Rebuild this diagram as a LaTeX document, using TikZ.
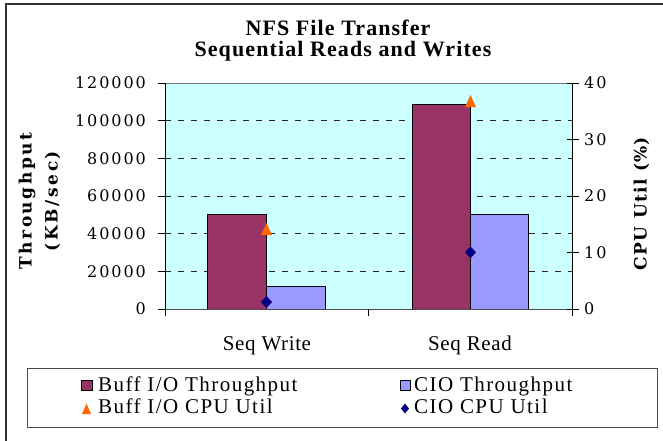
\documentclass[tikz,border=0pt]{standalone}
\usepackage{fontspec}
\setmainfont{Liberation Serif}
\newfontfamily\titlefont{Liberation Serif}[LetterSpace=5]
\newfontfamily\legendfont{Liberation Serif}[LetterSpace=7]
\newfontfamily\catfont{Liberation Serif}[LetterSpace=3]
\newfontfamily\tickfont{DejaVu Serif}[LetterSpace=12]
\newfontfamily\leftaxisfont{DejaVu Serif}[LetterSpace=15]
\newfontfamily\rightaxisfont{DejaVu Serif}[LetterSpace=8]

\definecolor{plotbg}{HTML}{CCFFFF}
\definecolor{buffbar}{HTML}{993366}
\definecolor{ciobar}{HTML}{9999FF}
\definecolor{buffcpu}{HTML}{FF6600}
\definecolor{ciocpu}{HTML}{000080}

\tikzset{
  bar/.style={draw=black,line width=0.9pt},
  gridline/.style={black!85,line width=0.9pt,dash pattern=on 6pt off 7pt},
  ticklabel/.style={inner sep=0pt,font={\fontsize{16}{16}\tickfont}},
  catlabel/.style={inner sep=0pt,anchor=base,font={\fontsize{21}{21}\catfont}},
  legendlabel/.style={inner sep=0pt,anchor=base west,font={\fontsize{21}{21}\legendfont}},
  titlelabel/.style={inner sep=0pt,anchor=base,font={\fontsize{22}{22}\titlefont\bfseries}},
  buff tri/.pic={\fill[buffcpu] (-5.5,6) -- (5.5,6) -- (0,-6) -- cycle;},
  cio dia/.pic={\fill[ciocpu] (-5.5,0) -- (0,-6) -- (5.5,0) -- (0,6) -- cycle;},
  legend tri/.pic={\fill[buffcpu] (-4.5,5) -- (4.5,5) -- (0,-5.5) -- cycle;},
  legend dia/.pic={\fill[ciocpu] (-4,0) -- (0,-5) -- (4,0) -- (0,5) -- cycle;}
}

\begin{document}
\begin{tikzpicture}[x=1pt,y=-1pt]
    \useasboundingbox (0,0) rectangle (663,440);
    \draw[black!80,line width=1.5pt] (6,4) rectangle (668,446);

    % title
    \node[titlelabel] (title1) at (338,35) {NFS File Transfer};
    \node[titlelabel] (title2) at (343,56.5) {Sequential Reads and Writes};

    % plot area
    \fill[plotbg] (165,83) rectangle (572,309);
    \foreach \v in {20,40,...,100}{
        \pgfmathsetmacro\yy{309-\v*1.88333}
        \draw[gridline] (165,\yy) -- (572,\yy);
    }

    % bars
    \draw[bar,fill=buffbar] (207.5,309) rectangle (266.5,214.8);
    \draw[bar,fill=ciobar] (266.5,309) rectangle (325,286.4);
    \draw[bar,fill=buffbar] (412,309) rectangle (470.5,104.3);
    \draw[bar,fill=ciobar] (470.5,309) rectangle (528,214.8);

    % axes
    \draw[black!55,line width=1pt] (165,83) -- (572,83);
    \draw[black!70,line width=1pt] (165,309) -- (572,309);
    \draw[black,line width=1pt] (165,83) -- (165,309);
    \draw[black,line width=1pt] (572,83) -- (572,309);
    \foreach \x in {165,368.5,572}
        \draw[black,line width=1pt] (\x,309) -- (\x,316);

    \foreach \v/\lab in {0/0,20/20000,40/40000,60/60000,80/80000,100/100000,120/120000}{
        \pgfmathsetmacro\yy{309-\v*1.88333}
        \draw[black,line width=1pt] (158,\yy) -- (165,\yy);
        \node[ticklabel,anchor=east] (tl\v) at (146,\yy) {\lab};
    }
    \foreach \p in {0,10,...,40}{
        \pgfmathsetmacro\yy{309-\p*5.65}
        \draw[black,line width=1pt] (567,\yy) -- (579,\yy);
        \node[ticklabel,anchor=west] (tr\p) at (584,\yy) {\p};
    }

    % cpu markers
    \pic at (266.5,229) {buff tri};
    \pic at (470.5,101) {buff tri};
    \pic at (266.5,302) {cio dia};
    \pic at (470.5,252.3) {cio dia};

    % axis titles
    \node[inner sep=0pt,rotate=90,font={\fontsize{17}{17}\leftaxisfont\bfseries}] (ytitle1) at (27,201) {Throughput};
    \node[inner sep=0pt,rotate=90,font={\fontsize{17}{17}\leftaxisfont\bfseries}] (ytitle2) at (52.5,201) {(KB/sec)};
    \node[inner sep=0pt,rotate=90,font={\fontsize{17}{17}\rightaxisfont\bfseries}] (y2title) at (641.5,203.5) {CPU Util (\%)};

    % categories
    \node[catlabel] (catw) at (267,350) {Seq Write};
    \node[catlabel] (catr) at (470,350) {Seq Read};

    % legend
    \draw[black!70,line width=0.9pt] (27.5,368) rectangle (657,427);
    \draw[bar,fill=buffbar] (81.5,380) rectangle (92,390.5);
    \draw[bar,fill=ciobar] (400,380) rectangle (410.5,390.5);
    \pic at (86.5,409) {legend tri};
    \pic at (405,408.5) {legend dia};
    \node[legendlabel] (lg1) at (98,391.5) {Buff I/O Throughput};
    \node[legendlabel] (lg2) at (414,391.5) {CIO Throughput};
    \node[legendlabel] (lg3) at (98,413.5) {Buff I/O CPU Util};
    \node[legendlabel] (lg4) at (414,413.5) {CIO CPU Util};
\end{tikzpicture}
\end{document}
